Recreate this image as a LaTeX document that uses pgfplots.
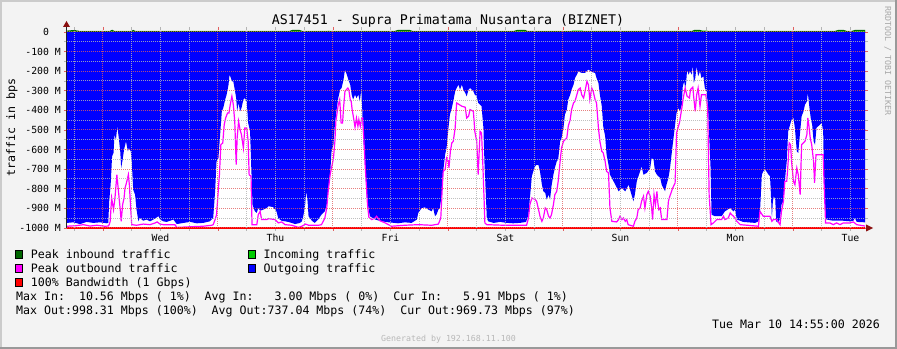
\documentclass[border=0pt]{standalone}
\usepackage{fontspec}
\setmainfont{DejaVu Sans Mono}
\usepackage{pgfplots}
\usepackage{pgfplotstable}
\pgfplotsset{compat=1.18}
\definecolor{bgc}{HTML}{F3F3F3}
\definecolor{shadea}{HTML}{CBCBCB}
\definecolor{shadeb}{HTML}{999999}
\definecolor{mgridc}{HTML}{E06060}
\definecolor{gridc}{HTML}{B4B4B4}
\definecolor{outc}{HTML}{0000FF}
\definecolor{peakoutc}{HTML}{FF00FF}
\definecolor{inc}{HTML}{00CC00}
\definecolor{peakinc}{HTML}{006600}
\definecolor{bwc}{HTML}{FF0000}
\definecolor{arrowc}{HTML}{8B1010}
\definecolor{genc}{HTML}{B8B8B8}
\definecolor{rrdc}{HTML}{A8A8A8}
\newcommand\lf{\fontsize{11.6bp}{13bp}\selectfont}
\newcommand\tf{\fontsize{9.8bp}{11bp}\selectfont}
\newcommand\titlef{\fontsize{13.3bp}{15bp}\selectfont}
\newcommand\sm{\fontsize{8.3bp}{9bp}\selectfont}

% hours since Wed 00:00, Mbps (outgoing drawn negative)
\pgfplotstableread{
h v
-7.51 -974
-6.2 -971
-4.8 -980
-3.4 -969
-2.0 -974
-0.6 -971
0.8 -976
1.1 -974
1.3 -864
1.6 -779
1.9 -634
2.2 -617
2.4 -524
2.7 -549
3.0 -481
3.3 -541
3.6 -609
3.8 -694
4.1 -651
4.4 -600
4.8 -558
5.2 -609
5.4 -592
5.8 -609
6.0 -660
6.3 -804
6.7 -830
7.0 -906
7.4 -966
7.7 -949
8.4 -963
9.1 -957
9.8 -966
10.5 -957
11.2 -946
11.6 -940
11.9 -957
12.6 -966
13.3 -969
14.7 -957
15.4 -980
16.8 -974
18.2 -969
19.6 -976
20.9 -974
22.3 -966
23.0 -949
23.4 -813
23.7 -660
24.1 -643
24.4 -541
24.8 -405
25.1 -388
25.5 -345
25.8 -320
26.2 -269
26.4 -218
26.7 -235
26.9 -252
27.2 -252
27.5 -294
27.8 -337
28.0 -405
28.3 -362
28.6 -405
28.9 -388
29.3 -345
29.6 -337
30.0 -354
30.3 -464
30.7 -507
30.9 -660
31.1 -796
31.2 -881
31.7 -915
32.1 -923
32.4 -898
32.8 -912
33.5 -906
34.2 -898
34.5 -889
35.5 -893
36.2 -915
36.6 -952
37.3 -963
38.7 -969
40.1 -980
41.1 -974
41.5 -966
41.8 -940
42.2 -881
42.4 -813
42.7 -864
42.9 -940
43.6 -963
44.2 -974
44.9 -957
45.6 -932
46.3 -915
46.7 -881
47.0 -813
47.4 -728
47.7 -609
48.1 -575
48.4 -473
48.8 -388
49.1 -337
49.5 -294
49.8 -286
50.2 -243
50.5 -192
50.9 -218
51.2 -243
51.6 -269
51.9 -320
52.2 -345
52.6 -320
52.9 -337
53.3 -320
53.6 -354
53.9 -294
54.1 -388
54.3 -541
54.7 -660
55.0 -830
55.4 -898
55.7 -940
56.8 -957
58.2 -966
59.6 -971
61.6 -976
63.0 -971
64.4 -974
65.5 -957
65.8 -923
66.5 -898
67.2 -895
67.9 -906
68.6 -915
68.9 -898
69.3 -940
69.6 -932
70.0 -906
70.3 -898
70.7 -830
71.0 -711
71.4 -626
71.7 -592
72.1 -490
72.4 -422
72.8 -388
73.1 -354
73.5 -303
73.8 -286
74.2 -269
74.5 -294
74.9 -269
75.2 -294
75.6 -311
75.9 -328
76.3 -294
76.6 -286
77.3 -303
77.6 -320
78.0 -328
78.3 -362
79.0 -379
79.4 -490
79.6 -660
79.9 -830
80.1 -949
80.4 -966
81.5 -974
82.9 -969
84.3 -974
85.6 -976
87.0 -974
88.3 -969
88.8 -932
89.1 -847
89.5 -736
89.8 -711
90.2 -685
90.5 -677
90.9 -680
91.2 -711
91.6 -779
91.9 -813
92.3 -821
92.6 -855
93.0 -830
93.3 -855
93.6 -787
94.0 -728
94.3 -694
94.7 -660
95.0 -651
95.4 -558
95.7 -541
96.1 -490
96.4 -422
96.8 -396
97.1 -345
97.5 -320
97.8 -294
98.2 -269
98.5 -235
98.9 -218
99.2 -201
99.9 -209
100.6 -209
101.3 -192
102.0 -204
102.7 -209
103.0 -235
103.4 -260
103.7 -320
104.1 -379
104.4 -481
104.8 -532
105.1 -626
105.5 -677
105.8 -728
106.2 -745
106.9 -779
107.6 -813
108.3 -796
109.0 -813
109.7 -779
110.3 -830
110.7 -864
111.0 -830
111.4 -762
112.1 -711
112.4 -685
112.8 -728
113.5 -719
114.2 -694
114.5 -643
114.9 -651
115.2 -711
115.6 -728
116.3 -745
116.6 -779
117.3 -813
117.6 -779
118.0 -745
118.3 -702
118.9 -575
119.4 -473
119.7 -413
120.1 -388
120.4 -405
120.8 -371
121.0 -277
121.3 -252
121.5 -286
121.7 -260
121.9 -192
122.2 -218
122.5 -201
122.9 -218
123.1 -167
123.3 -260
123.6 -235
123.9 -175
124.2 -226
124.6 -201
124.9 -235
125.3 -226
125.6 -286
126.0 -303
126.3 -405
126.5 -524
126.8 -694
127.0 -932
127.7 -940
129.1 -940
129.8 -915
130.9 -898
131.6 -915
131.9 -906
132.3 -957
133.6 -969
136.1 -974
136.8 -966
137.1 -923
137.5 -728
137.8 -711
138.2 -702
138.9 -728
139.2 -736
139.3 -779
139.6 -949
139.8 -864
140.0 -838
140.3 -855
140.5 -966
141.0 -974
141.3 -949
141.6 -881
142.0 -864
142.3 -762
142.7 -660
143.0 -507
143.4 -473
143.7 -447
144.1 -439
144.4 -490
144.8 -609
145.1 -617
145.5 -507
145.8 -430
146.2 -405
146.5 -371
146.9 -354
147.1 -311
147.4 -379
147.7 -439
148.0 -473
148.3 -558
148.6 -575
148.9 -490
149.6 -473
150.0 -464
150.3 -507
150.5 -779
150.8 -940
151.0 -957
152.4 -963
154.5 -963
155.9 -966
156.6 -963
156.9 -949
157.3 -969
159.03 -971
}\outtab

\pgfplotstableread{
h v
-7.51 -991
-5.5 -988
-4.1 -983
-2.7 -990
-1.3 -986
0.4 -991
1.1 -990
1.3 -983
1.5 -966
1.8 -847
2.2 -906
2.5 -847
2.9 -728
3.1 -779
3.3 -830
3.6 -906
3.8 -966
4.1 -881
4.4 -847
4.6 -796
4.9 -770
5.3 -728
5.5 -779
5.8 -906
6.0 -983
7.0 -986
8.4 -980
9.8 -983
10.9 -974
11.3 -969
11.9 -980
12.6 -983
15.0 -983
15.4 -997
18.9 -993
20.9 -991
22.7 -986
23.0 -983
23.4 -957
23.7 -932
24.0 -830
24.3 -728
24.6 -575
25.0 -566
25.3 -473
25.6 -439
26.0 -413
26.3 -413
26.5 -379
26.9 -328
27.2 -371
27.5 -456
27.8 -677
28.0 -541
28.3 -456
28.6 -498
28.9 -524
29.3 -592
29.6 -490
30.0 -490
30.3 -558
30.5 -728
30.9 -736
31.1 -983
32.1 -983
32.4 -932
32.8 -915
33.1 -957
34.2 -957
34.5 -952
35.9 -957
36.6 -974
37.3 -969
38.0 -983
39.4 -986
40.8 -997
41.5 -991
42.3 -980
42.9 -986
45.0 -986
45.6 -983
46.3 -949
46.7 -898
47.0 -813
47.4 -728
47.7 -694
48.1 -643
48.4 -558
48.6 -456
48.9 -405
49.1 -371
49.4 -345
49.7 -464
50.0 -464
50.2 -388
50.5 -303
51.1 -286
51.3 -294
51.6 -345
51.8 -354
52.0 -396
52.3 -439
52.6 -486
52.9 -439
53.2 -481
53.4 -447
53.7 -481
54.0 -439
54.2 -439
54.5 -575
54.7 -677
55.0 -796
55.2 -881
55.5 -946
56.1 -957
56.8 -949
57.1 -940
57.8 -963
58.9 -974
60.2 -991
63.0 -986
65.8 -983
68.6 -986
70.0 -980
70.5 -949
70.8 -796
71.0 -711
71.4 -702
71.7 -643
72.1 -660
72.2 -694
72.5 -609
72.8 -566
73.1 -558
73.5 -490
73.8 -362
74.9 -379
75.6 -384
75.9 -439
76.3 -430
76.6 -396
77.3 -405
77.6 -507
78.0 -558
78.3 -728
78.7 -507
79.0 -515
79.2 -626
79.5 -830
79.7 -974
80.1 -983
83.6 -986
88.4 -986
88.8 -949
89.1 -881
89.5 -847
90.2 -855
90.5 -864
90.9 -906
91.2 -940
91.6 -966
91.9 -949
92.3 -898
92.6 -906
93.0 -940
93.3 -949
93.6 -932
94.0 -881
94.3 -830
94.7 -813
95.0 -762
95.4 -660
95.7 -592
96.1 -558
96.8 -541
97.1 -481
97.5 -447
97.8 -396
98.2 -362
98.5 -354
98.9 -320
99.2 -294
99.6 -286
99.9 -320
100.3 -337
100.6 -303
101.0 -252
101.3 -269
101.6 -345
102.0 -286
102.3 -303
102.7 -345
103.0 -362
103.4 -490
103.7 -558
104.1 -609
104.4 -617
104.8 -660
105.1 -711
105.5 -719
105.8 -898
106.2 -966
107.2 -969
107.6 -957
107.9 -940
108.3 -957
108.6 -949
109.0 -966
109.3 -957
109.6 -983
110.7 -991
111.0 -966
111.4 -949
111.7 -906
112.1 -898
112.4 -864
112.8 -838
113.1 -898
113.5 -830
113.8 -813
114.2 -838
114.5 -898
114.7 -957
115.0 -830
115.3 -881
115.6 -813
115.8 -872
116.0 -906
116.3 -898
116.6 -957
117.7 -957
118.0 -864
118.3 -838
118.9 -796
119.4 -770
119.7 -515
120.3 -464
120.8 -388
121.1 -337
121.5 -286
121.9 -328
122.4 -337
122.6 -294
123.1 -282
123.3 -337
123.6 -405
123.9 -320
124.2 -286
124.6 -379
124.9 -320
125.8 -320
126.2 -388
126.5 -830
126.9 -983
127.4 -974
128.1 -957
129.1 -957
129.5 -940
129.8 -957
130.5 -949
130.9 -923
131.2 -932
131.6 -940
132.3 -966
133.0 -983
136.8 -991
137.1 -915
137.8 -940
139.2 -940
139.6 -966
139.9 -957
140.6 -957
141.3 -983
141.6 -915
142.0 -864
142.3 -762
142.7 -762
143.0 -660
143.2 -566
143.5 -575
143.7 -660
144.1 -762
144.4 -779
144.8 -694
145.1 -728
145.5 -830
145.8 -575
146.5 -558
146.9 -524
147.1 -439
147.3 -473
147.6 -541
147.9 -575
148.3 -660
148.5 -770
148.8 -626
150.3 -626
150.5 -779
150.8 -974
151.7 -974
152.4 -983
153.1 -974
153.8 -983
154.5 -974
155.9 -974
156.6 -969
157.3 -983
159.03 -990
}\peaktab

\pgfplotstableread{
h v
-7.51 4
-6.0 6
-5.0 2
1.5 2
1.9 7
2.3 2
6.0 2
6.3 6
6.7 2
39.0 2
39.5 6
41.0 6
41.5 2
46.5 2
47.0 6
48.0 2
52.0 2
52.5 4
54.5 4
55.0 2
61.0 2
61.5 6
64.0 6
64.5 2
85.5 2
86.0 7
88.0 7
88.5 2
97.5 2
98.0 7
100.0 7
100.5 2
123.0 2
123.5 7
126.0 7
126.5 2
152.5 2
153.0 7
155.0 7
155.5 2
156.0 2
156.5 7
159.03 7
}\intab

\pgfplotstableread{
h v
-7.51 4
-6.0 7
-5.0 3
1.5 3
1.9 8
2.3 3
6.0 3
6.3 7
6.7 3
39.0 3
39.5 7
41.0 7
41.5 3
61.0 3
61.5 7
64.0 7
64.5 3
86.0 3
86.5 8
88.0 8
88.5 3
123.0 3
123.5 8
124.5 8
125.0 3
153.0 3
153.5 8
154.5 8
155.0 3
156.5 3
157.0 8
159.03 8
}\peakintab

\pgfplotsset{
  rrdframe/.style={
    at={(67bp,121bp)}, anchor=south west,
    scale only axis, width=798bp, height=198bp,
    xmin=-7.51, xmax=159.03, ymin=-1000, ymax=10,
    clip=false,
    axis line style={draw=none},
    xtick={0,24,...,144},
    minor xtick={-6,6,12,18,30,36,42,54,60,66,78,84,90,102,108,114,126,132,138,150,156},
    ytick={-1000,-900,...,0},
    minor ytick={-950,-850,...,-50},
  }
}

\begin{document}
\begin{tikzpicture}
\useasboundingbox (0,0) rectangle (897bp,349bp);
\fill[bgc] (0,0) rectangle (897bp,349bp);
\draw[shadea, line width=2bp] (1bp,0) -- (1bp,348bp) -- (897bp,348bp);
\draw[shadeb, line width=2bp] (0,1bp) -- (896bp,1bp) -- (896bp,349bp);

% data axis: ticks, labels and series
\begin{axis}[
  rrdframe,
  axis background/.style={fill=white},
  tick align=outside,
  major tick length=3bp, minor tick length=3bp,
  xticklabels={},
  extra x ticks={12,36,60,84,108,132,156},
  extra x tick labels={Wed,Thu,Fri,Sat,Sun,Mon,Tue},
  extra x tick style={major tick length=0pt},
  yticklabels={-1000 M,-900 M,-800 M,-700 M,-600 M,-500 M,-400 M,-300 M,-200 M,-100 M,{0\hphantom{\ M}}},
  major tick style={mgridc, line width=0.8bp},
  minor tick style={gridc, line width=0.8bp},
  ticklabel style={font=\tf, text=black, inner sep=0pt},
  yticklabel style={xshift=-3bp},
  xticklabel style={yshift=-6bp},
]
\addplot[draw=none, fill=outc] table[x=h, y=v] {\outtab} \closedcycle;
\addplot[draw=none, fill=inc] table[x=h, y=v] {\intab} \closedcycle;
\addplot[peakinc, line width=1.2bp] table[x=h, y=v] {\peakintab};
\addplot[peakoutc, line width=1.2bp] table[x=h, y=v] {\peaktab};
\addplot[bwc, line width=1.3bp] coordinates {(-7.51,-1000) (159.03,-1000)};
\end{axis}

% grid axis drawn over the data, as rrdtool does
\begin{axis}[
  rrdframe,
  xticklabels={}, yticklabels={},
  major tick length=0pt, minor tick length=0pt,
  grid=both,
  major grid style={mgridc, opacity=0.8, line width=1bp, dash pattern=on 1bp off 1bp},
  minor grid style={gridc, opacity=0.85, line width=1bp, dash pattern=on 1bp off 1bp},
]
\end{axis}

% axis line and arrows
\draw[black!85, line width=1bp] (66.5bp,121bp) -- (66.5bp,323bp);
\fill[arrowc] (63bp,322bp) -- (66.5bp,328bp) -- (70bp,322bp) -- cycle;
\fill[arrowc] (866bp,124.5bp) -- (873bp,121bp) -- (866bp,117.5bp) -- cycle;

% title and labels
\node[anchor=base, font=\titlef, inner sep=0] at (448bp,324.1bp) {AS17451 - Supra Primatama Nusantara (BIZNET)};
\node[rotate=90, anchor=base, font=\lf, inner sep=0] at (15bp,221.5bp) {traffic in bps};
\node[rotate=-90, anchor=base, font=\sm, text=rrdc, inner sep=0] at (885bp,288bp) {RRDTOOL / TOBI OETIKER};

% legend
\filldraw[fill=peakinc, draw=black, line width=0.8bp] (15.5bp,90.5bp) rectangle (22.5bp,98.5bp);
\node[anchor=base west, font=\lf, inner sep=0] at (30.7bp,90.7bp) {Peak inbound traffic};
\filldraw[fill=inc, draw=black, line width=0.8bp] (248.5bp,90.5bp) rectangle (255.5bp,98.5bp);
\node[anchor=base west, font=\lf, inner sep=0] at (263.3bp,90.7bp) {Incoming traffic};
\filldraw[fill=peakoutc, draw=black, line width=0.8bp] (15.5bp,76.5bp) rectangle (22.5bp,84.5bp);
\node[anchor=base west, font=\lf, inner sep=0] at (30.7bp,76.7bp) {Peak outbound traffic};
\filldraw[fill=outc, draw=black, line width=0.8bp] (248.5bp,76.5bp) rectangle (255.5bp,84.5bp);
\node[anchor=base west, font=\lf, inner sep=0] at (263.3bp,76.7bp) {Outgoing traffic};
\filldraw[fill=bwc, draw=black, line width=0.8bp] (15.5bp,62.5bp) rectangle (22.5bp,70.5bp);
\node[anchor=base west, font=\lf, inner sep=0] at (30.7bp,62.7bp) {100\% Bandwidth (1 Gbps)};
\node[anchor=base west, font=\lf, inner sep=0] at (16bp,48.8bp) {Max In:\ \ 10.56 Mbps ( 1\%)\ \ Avg In:\ \ \ 3.00 Mbps ( 0\%)\ \ Cur In:\ \ \ 5.91 Mbps ( 1\%)};
\node[anchor=base west, font=\lf, inner sep=0] at (16bp,34.6bp) {Max Out:998.31 Mbps (100\%)\ \ Avg Out:737.04 Mbps (74\%)\ \ Cur Out:969.73 Mbps (97\%)};
\node[anchor=base east, font=\lf, inner sep=0] at (880bp,20.8bp) {Tue Mar 10 14:55:00 2026};
\node[anchor=base, font=\sm, text=genc, inner sep=0] at (448.5bp,7.7bp) {Generated by 192.168.11.100};
\end{tikzpicture}
\end{document}
